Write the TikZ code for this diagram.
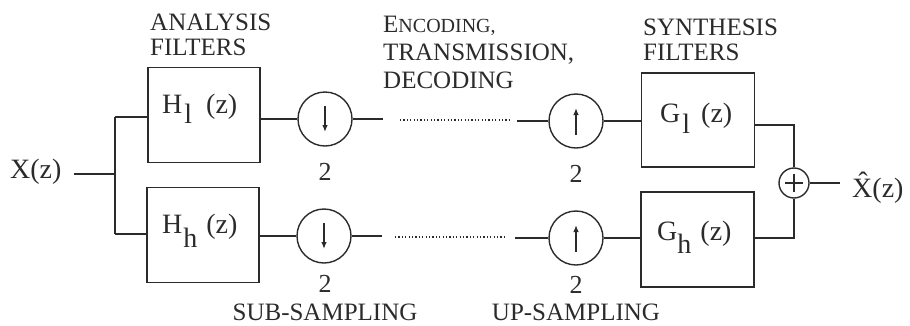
\documentclass[tikz,border=0pt]{standalone}
\usepackage{fontspec}
\setmainfont{Liberation Serif}
\usetikzlibrary{arrows.meta,calc}
\definecolor{ink}{HTML}{2B2B2B}
\newcommand\sbx[2]{\raisebox{-#1pt}{#2}}
\begin{document}
\begin{tikzpicture}[x=1pt,y=-1pt,
  wire/.style={draw=ink, line width=1.4pt},
  filt/.style={draw=ink, line width=1.4pt, minimum width=112pt, minimum height=95pt, inner sep=0pt},
  samp/.style={draw=ink, circle, line width=1.4pt, minimum size=54pt, inner sep=0pt},
  sumnode/.style={draw=ink, circle, line width=1.4pt, minimum size=30pt, inner sep=0pt},
  captxt/.style={text=ink, inner sep=0pt, anchor=base west, font=\fontsize{25}{28}\selectfont},
  big/.style={text=ink, inner sep=0pt, anchor=base west, font=\fontsize{28}{30}\selectfont},
  num/.style={text=ink, inner sep=0pt, anchor=base, font=\fontsize{26}{28}\selectfont},
  dots/.style={draw=ink, line width=1.1pt, dash pattern=on 1.2pt off 2.2pt},
  samparrow/.style={draw=ink, line width=1.3pt, -{Latex[length=7pt,width=5.5pt]}}
]
\useasboundingbox (0,0) rectangle (910,325);

% input
\node[big] (xin) at (10,178) {X(z)};
\coordinate (ja) at (115,174);
\coordinate (jb) at (115,117);
\coordinate (jc) at (115,234);

% analysis filters
\node[filt] (hl) at (204,115) {};
\node[filt] (hh) at (203,235) {};
\node[big] (hlt) at (162,113) {H\kern2pt\sbx{10}{l}\kern14pt(z)};
\node[big] (hht) at (162,233) {H\kern1pt\sbx{14}{h}\kern9pt(z)};

% down-samplers
\node[samp] (dl) at (325,119) {};
\node[samp] (dh) at (324,236) {};

% up-samplers
\node[samp] (ul) at (576,121) {};
\node[samp] (uh) at (576,238) {};

% synthesis filters
\node[filt, minimum width=113pt, minimum height=94pt] (gl) at (698,120) {};
\node[filt, minimum width=113pt] (gh) at (697.5,239.5) {};
\node[big] (glt) at (660,122) {G\kern2pt\sbx{11}{l}\kern11pt(z)};
\node[big] (ght) at (657,240) {G\kern0pt\sbx{13}{h}\kern9pt(z)};

% summation
\node[sumnode] (sum) at (794,183) {};
\node[big] (xout) at (852,197) {\^{X}(z)};

% wires
\draw[wire] ($(xin.east |- ja)+(12,0)$) -- (ja);
\draw[wire] (jb) -- (jc);
\draw[wire] (jb) -- (jb -| hl.west);
\draw[wire] (jc) -- (jc -| hh.west);
\draw[wire] (hl.east |- dl) -- (dl.west);
\draw[wire] (hh.east |- dh) -- (dh.west);
\draw[samparrow] ($(dl)+(0,-13)$) -- ($(dl)+(0,13)$);
\draw[samparrow] ($(dh)+(0,-13)$) -- ($(dh)+(0,13)$);
\draw[samparrow] ($(ul)+(0,14)$) -- ($(ul)+(0,-13)$);
\draw[samparrow] ($(uh)+(0,14)$) -- ($(uh)+(0,-13)$);

\coordinate (ea) at (383,119);
\coordinate (eb) at (400,120);
\coordinate (ec) at (510,120);
\coordinate (ed) at (517,121);
\coordinate (fa) at (382,236);
\coordinate (fb) at (395,237);
\coordinate (fc) at (505,237);
\coordinate (fd) at (515,238);
\draw[wire] (dl.east) -- (ea);
\draw[dots] (eb) -- (ec);
\draw[wire] (ed) -- (ul.west);
\draw[wire] (dh.east) -- (fa);
\draw[dots] (fb) -- (fc);
\draw[wire] (fd) -- (uh.west);

\draw[wire] (ul.east) -- (ul.east -| gl.west);
\draw[wire] (uh.east) -- (uh.east -| gh.west);

\coordinate (ka) at (794,125);
\coordinate (kb) at (794,238);
\coordinate (kc) at (840,183);
\draw[wire] (gl.east |- ka) -- (ka) -- (sum.north);
\draw[wire] (gh.east |- kb) -- (kb) -- (sum.south);
\draw[wire] ($(sum)+(-9,0)$) -- ($(sum)+(9,0)$);
\draw[wire] ($(sum)+(0,-9)$) -- ($(sum)+(0,9)$);
\draw[wire] (sum.east) -- (kc);

% captions
\node[captxt] (an1) at (150,30) {ANALYSIS};
\node[captxt] (an2) at (150,55) {FILTERS};
\node[captxt] (en1) at (383,32) {E{\fontsize{20}{22}\selectfont NCODING,}};
\node[captxt] (en2) at (383,60) {TRANSMISSION,};
\node[captxt] (en3) at (383,88) {DECODING};
\node[captxt] (sy1) at (643,35) {SYNTHESIS};
\node[captxt] (sy2) at (643,60) {FILTERS};
\node[num] (n1) at (325,180) {2};
\node[num] (n2) at (325,292) {2};
\node[num] (n3) at (576,182) {2};
\node[num] (n4) at (576,293) {2};
\node[captxt, anchor=base] (sub) at (325,320) {SUB-SAMPLING};
\node[captxt, anchor=base] (up) at (576,320) {UP-SAMPLING};
\end{tikzpicture}
\end{document}
